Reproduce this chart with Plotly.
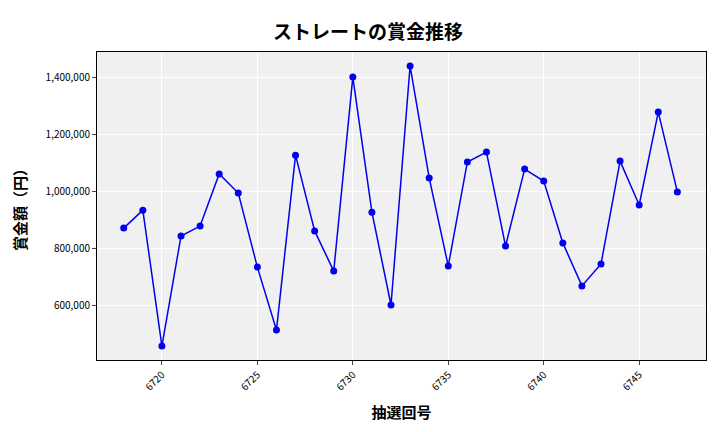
import plotly.graph_objects as go

# Draw numbers and prize amounts (yen)
draws = list(range(6718, 6748))
prize = [870000, 933000, 456000, 842000, 877000, 1060000, 993000, 733000, 512000, 1126000,
         860000, 719000, 1400000, 926000, 600000, 1439000, 1046000, 737000, 1102000, 1137000,
         807000, 1077000, 1035000, 818000, 667000, 744000, 1105000, 951000, 1277000, 997000]
x_ticks = [6720, 6725, 6730, 6735, 6740, 6745]
y_ticks = [600000, 800000, 1000000, 1200000, 1400000]

fig = go.Figure(go.Scatter(
    x=draws, y=prize, mode="lines+markers",
    line=dict(color="#0000ee", width=1.5),
    marker=dict(color="#0000ee", size=7),
))

fig.update_layout(
    width=720, height=432,
    margin=dict(l=87, r=22, t=44, b=80),
    title=dict(text="<b>ストレートの賞金推移</b>", x=0.5, y=0.96, xanchor="center",
               font=dict(size=19, color="black")),
    font=dict(family="Noto Sans CJK JP", color="black", size=10),
    plot_bgcolor="#f0f0f0", paper_bgcolor="white",
    showlegend=False,
)
fig.update_xaxes(
    title=dict(text="<b>抽選回号</b>", font=dict(size=15)),
    range=[6716.6, 6748.5], tickvals=x_ticks, tickangle=-45,
    gridcolor="white", showline=True, linecolor="black", mirror=True,
    ticks="outside", ticklen=4, zeroline=False,
)
fig.update_yaxes(
    title=dict(text="<b>賞金額（円）</b>", font=dict(size=15)),
    range=[407000, 1488000], tickvals=y_ticks, tickformat=",d",
    gridcolor="white", showline=True, linecolor="black", mirror=True,
    ticks="outside", ticklen=4, zeroline=False,
)

fig.write_html("out.html")
